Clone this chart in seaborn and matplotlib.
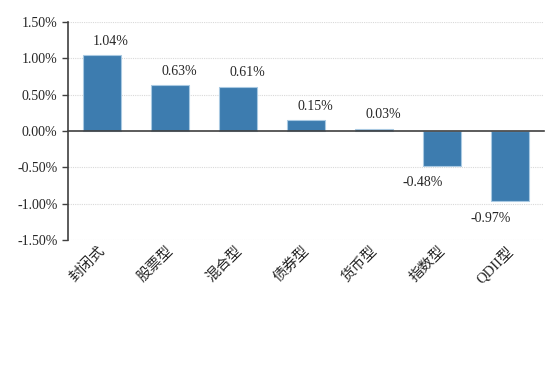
import seaborn as sns
import pandas as pd
import matplotlib.pyplot as plt
from matplotlib.ticker import FixedLocator

categories = ['封闭式', '股票型', '混合型', '债券型', '货币型', '指数型', 'QDII型']
values = [1.04, 0.63, 0.61, 0.15, 0.03, -0.48, -0.97]
yticks = [-1.5, -1.0, -0.5, 0.0, 0.5, 1.0, 1.5]

df = pd.DataFrame({'type': categories, 'ret': values})

sns.set_style("white")
plt.rcParams['font.family'] = ['Liberation Serif', 'Noto Sans CJK SC', 'DejaVu Sans']

fig = plt.figure(figsize=(5.56, 3.65), dpi=100)
ax = fig.add_axes([0.1223, 0.3425, 0.8561, 0.5973])

sns.barplot(data=df, x='type', y='ret', color='#3d7caf', saturation=1,
            width=0.56, edgecolor='#a9c9e2', linewidth=0.8, ax=ax)

ax.set_ylim(-1.5, 1.5)
ax.set_xlim(-0.5, len(categories) - 0.5)
ax.set_yticks(yticks)
ax.set_yticklabels([f'{t:.2f}%' for t in yticks], fontsize=10)
for t in yticks:
    if t != 0:
        ax.axhline(t, color='#d9d9d9', lw=0.8, ls=(0, (1, 1)), zorder=0)

# x axis sits on the zero line, ticks between categories
ax.spines['bottom'].set_position(('data', 0))
ax.spines['top'].set_visible(False)
ax.spines['right'].set_visible(False)
for s in ['left', 'bottom']:
    ax.spines[s].set_color('#404040')
    ax.spines[s].set_linewidth(1.2)
ax.set_xticks([])
ax.xaxis.set_minor_locator(FixedLocator([i + 0.5 for i in range(-1, len(categories))]))
ax.tick_params(axis='x', which='minor', direction='in', length=4, color='#404040', width=1)
ax.tick_params(axis='y', which='major', direction='out', length=4, left=True, color='#404040', width=1)
ax.set_xlabel('')
ax.set_ylabel('')

for i, v in enumerate(values):
    if v >= 0:
        ax.annotate(f'{v:.2f}%', (i, v), xytext=(6.5, 10), textcoords='offset points',
                    ha='center', va='center', fontsize=10)
    else:
        ax.annotate(f'{v:.2f}%', (i, v), xytext=(-14, -12), textcoords='offset points',
                    ha='center', va='center', fontsize=10)

for i, c in enumerate(categories):
    ax.text(i + 0.02, -1.62, c, rotation=45, ha='right', va='center',
            rotation_mode='anchor', fontsize=10.5)

fig.savefig('out.png', dpi=100)
